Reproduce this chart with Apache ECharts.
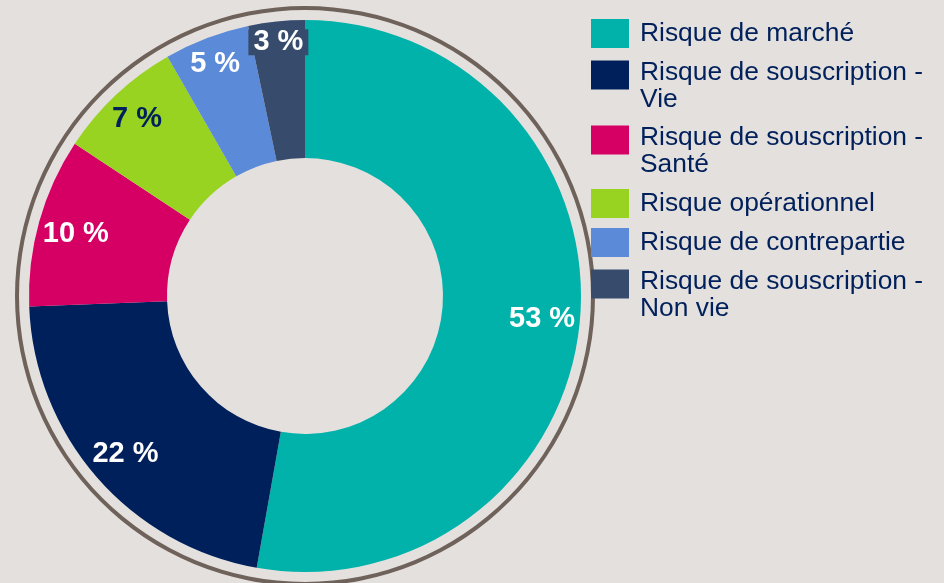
<!DOCTYPE html>
<html><head><meta charset="utf-8">
<script src="https://cdn.jsdelivr.net/npm/echarts@6/dist/echarts.min.js"></script>
<style>html,body{margin:0;padding:0;background:#E4E0DD}#c{width:944px;height:583px}</style>
</head><body><div id="c"></div>
<script>
// ---- data ----
const categories = [
  "Risque de marché",
  "Risque de souscription -\nVie",
  "Risque de souscription -\nSanté",
  "Risque opérationnel",
  "Risque de contrepartie",
  "Risque de souscription -\nNon vie"
];
const values = [52.8, 21.6, 9.9, 7.4, 5.0, 3.3];

// ---- styling ----
const colors = ["#00B2A9", "#00205B", "#D60065", "#98D321", "#5B8AD9", "#374C6D"];
const labelColors = ["#FFFFFF", "#FFFFFF", "#FFFFFF", "#00205B", "#FFFFFF", "#FFFFFF"];
const labelNudge = [[0,2],[0,2],[0,2],[-5,-4],[-5,-10],[-2,-17]];
const legendTops = [19, 59, 124, 189, 228, 268];
const FONT = '"Liberation Sans", Arial, sans-serif';
const CENTER = [305, 296];

const chart = echarts.init(document.getElementById('c'), null, {renderer: 'canvas'});

const legends = categories.map((name, i) => {
  const two = name.indexOf('\n') >= 0;
  return {
    orient: 'vertical', left: 591, top: legendTops[i], padding: 0,
    itemWidth: 38, itemHeight: two ? 51 : 29, itemGap: 0,
    icon: two ? 'path://M0 0H38V29H0Z M0 51L0.01 51' : 'rect',
    selectedMode: false,
    data: [name],
    itemStyle: {borderWidth: 0},
    textStyle: {fontSize: 26.4, lineHeight: 27, color: '#00205B', fontFamily: FONT, padding: [0,0,0,6]}
  };
});

chart.setOption({
  backgroundColor: '#E4E0DD',
  animation: false,
  legend: legends,
  series: [
    {
      type: 'pie', name: 'ring', center: CENTER, radius: [286, 290],
      silent: true, label: {show: false}, labelLine: {show: false},
      emphasis: {disabled: true},
      data: [{value: 1, name: '__ring', itemStyle: {color: '#6E625B'}}]
    },
    {
      type: 'pie', name: 'main', center: CENTER, radius: [138, 276],
      startAngle: 90, clockwise: true, avoidLabelOverlap: false,
      label: {show: false}, labelLine: {show: false},
      emphasis: {disabled: true},
      itemStyle: {borderWidth: 0},
      data: categories.map((n, i) => ({name: n, value: values[i], itemStyle: {color: colors[i]}}))
    },
    {
      type: 'pie', name: 'labels', center: CENTER, radius: [194, 276],
      startAngle: 90, clockwise: true, avoidLabelOverlap: false, silent: true,
      emphasis: {disabled: true},
      labelLine: {show: false},
      itemStyle: {color: 'rgba(0,0,0,0)', borderWidth: 0},
      label: {
        show: true, position: 'inside', fontSize: 29, fontWeight: 'bold', fontFamily: FONT,
        formatter: p => Math.round(p.value) + ' %'
      },
      data: categories.map((n, i) => {
        const lab = {color: labelColors[i], offset: labelNudge[i]};
        if (i === 5) { lab.backgroundColor = colors[i]; lab.padding = [0, 5]; lab.lineHeight = 26; }
        return {name: n, value: values[i], label: lab};
      })
    }
  ]
});
</script>
</body></html>
